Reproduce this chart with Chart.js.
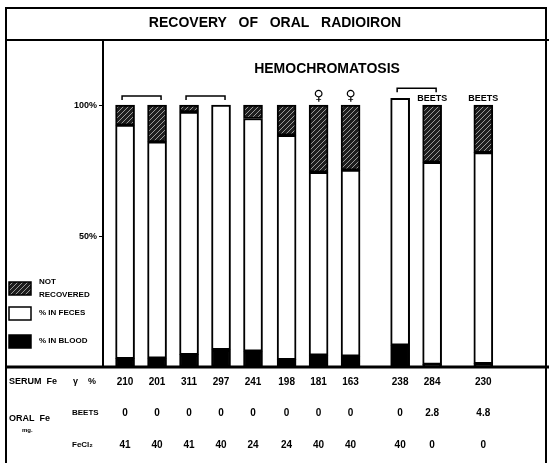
<!DOCTYPE html>
<html>
<head>
<meta charset="utf-8">
<script src="https://cdn.jsdelivr.net/npm/chart.js@4"></script>
<style>
  html, body { margin: 0; padding: 0; background: #fff; }
  canvas { display: block; }
</style>
</head>
<body>
<canvas id="chart" width="549" height="463"></canvas>
<script>
// values (percent of oral dose)
const serumFe = [210, 201, 311, 297, 241, 198, 181, 163, 238, 284, 230];
const beetsMg = ["0", "0", "0", "0", "0", "0", "0", "0", "0", "2.8", "4.8"];
const fecl2Mg = ["41", "40", "41", "40", "24", "24", "40", "40", "40", "0", "0"];
const inBlood = [3.2, 3.4, 4.7, 6.6, 6.0, 2.8, 4.5, 4.1, 8.3, 1.0, 1.3];
const inFeces = [89.2, 82.6, 92.7, 93.4, 88.9, 85.7, 69.9, 71.1, 94.3, 77.2, 80.6];
const notRecovered = [7.6, 14.0, 2.6, 0, 5.1, 11.5, 25.6, 24.8, 0, 21.8, 18.1];
const yTicks = [50, 100];

// layout: where each bar sits along the x axis (groups are spaced apart)
const slots = [0, 1, 2, 3, 4, 5.05, 6.05, 7.05, 8.6, 9.6, 11.2];

const FONT = "'Liberation Sans', Arial, sans-serif";

function hatchPattern() {
  const c = document.createElement("canvas");
  c.width = 5; c.height = 5;
  const g = c.getContext("2d");
  g.fillStyle = "#1e1e1e";
  g.fillRect(0, 0, 5, 5);
  g.strokeStyle = "#9a9a9a";
  g.lineWidth = 1;
  g.beginPath();
  g.moveTo(0, 5); g.lineTo(5, 0);
  g.moveTo(-2.5, 2.5); g.lineTo(2.5, -2.5);
  g.moveTo(2.5, 7.5); g.lineTo(7.5, 2.5);
  g.stroke();
  return g.createPattern(c, "repeat");
}
const hatch = hatchPattern();

const pts = arr => arr.map((v, i) => ({ x: slots[i], y: v }));

const decorations = {
  id: "decorations",
  afterDraw(chart) {
    const ctx = chart.ctx;
    const xs = chart.scales.x, ys = chart.scales.y;
    const px = i => xs.getPixelForValue(slots[i]);
    ctx.save();
    ctx.strokeStyle = "#000";
    ctx.fillStyle = "#000";

    // frame
    ctx.lineWidth = 2;
    ctx.beginPath();
    ctx.moveTo(6, 470); ctx.lineTo(6, 8); ctx.lineTo(546, 8); ctx.lineTo(546, 470);
    ctx.moveTo(6, 40); ctx.lineTo(549, 40);
    ctx.moveTo(103, 40); ctx.lineTo(103, 367);
    ctx.stroke();
    ctx.lineWidth = 3;
    ctx.beginPath();
    ctx.moveTo(6, 367); ctx.lineTo(549, 367);
    ctx.stroke();

    // titles
    ctx.textAlign = "center";
    ctx.textBaseline = "middle";
    ctx.font = "bold 14px " + FONT;
    ctx.fillText("RECOVERY   OF   ORAL   RADIOIRON", 275, 23);
    ctx.fillText("HEMOCHROMATOSIS", 327, 69);

    // brackets
    ctx.lineWidth = 1.5;
    const bracket = (a, b, val) => {
      const y = ys.getPixelForValue(val);
      const x0 = px(a) - 3, x1 = px(b) + 4;
      ctx.beginPath();
      ctx.moveTo(x0, y + 4); ctx.lineTo(x0, y); ctx.lineTo(x1, y); ctx.lineTo(x1, y + 4);
      ctx.stroke();
    };
    bracket(0, 1, 103.5);
    bracket(2, 3, 103.5);
    bracket(8, 9, 106.5);

    // female marks and BEETS notes
    ctx.font = "bold 14px 'DejaVu Sans', sans-serif";
    ctx.fillText("\u2640", px(6), 96);
    ctx.fillText("\u2640", px(7), 96);
    ctx.font = "bold 9px " + FONT;
    ctx.fillText("BEETS", px(9), 99);
    ctx.fillText("BEETS", px(10), 99);

    // y tick labels
    ctx.textAlign = "right";
    ctx.font = "bold 9px " + FONT;
    yTicks.forEach(v => ctx.fillText(v + "%", 97, ys.getPixelForValue(v)));

    // legend
    ctx.lineWidth = 1.5;
    const box = (y, fill) => {
      ctx.fillStyle = fill;
      ctx.fillRect(9, y, 22, 13);
      ctx.strokeRect(9, y, 22, 13);
    };
    box(282, hatch);
    box(307, "#fff");
    box(335, "#000");
    ctx.fillStyle = "#000";
    ctx.textAlign = "left";
    ctx.font = "bold 8px " + FONT;
    ctx.fillText("NOT", 39, 282);
    ctx.fillText("RECOVERED", 39, 295);
    ctx.fillText("% IN FECES", 39, 313);
    ctx.fillText("% IN BLOOD", 39, 341);

    // table under the bars
    ctx.font = "bold 9px " + FONT;
    ctx.fillText("SERUM  Fe", 9, 382);
    ctx.fillText("\u03B3", 73, 382);
    ctx.fillText("%", 88, 382);
    ctx.fillText("ORAL  Fe", 9, 419);
    ctx.font = "bold 6px " + FONT;
    ctx.fillText("mg.", 22, 430);
    ctx.font = "bold 8px " + FONT;
    ctx.fillText("BEETS", 72, 413);
    ctx.fillText("FeCl\u2082", 72, 445);
    ctx.textAlign = "center";
    ctx.font = "bold 10px " + FONT;
    serumFe.forEach((v, i) => ctx.fillText(String(v), px(i), 382));
    beetsMg.forEach((v, i) => ctx.fillText(v, px(i), 413));
    fecl2Mg.forEach((v, i) => ctx.fillText(v, px(i), 445));
    ctx.restore();
  }
};

const common = { borderColor: "#000", borderWidth: 2, borderSkipped: false, barThickness: 19 };

new Chart(document.getElementById("chart"), {
  type: "bar",
  data: {
    datasets: [
      Object.assign({ label: "% IN BLOOD", data: pts(inBlood), backgroundColor: "#000" }, common),
      Object.assign({ label: "% IN FECES", data: pts(inFeces), backgroundColor: "#fff" }, common),
      Object.assign({ label: "NOT RECOVERED", data: pts(notRecovered), backgroundColor: hatch }, common)
    ]
  },
  options: {
    responsive: false,
    animation: false,
    layout: { padding: { left: 0, right: 3, top: 79, bottom: 96 } },
    plugins: { legend: { display: false }, tooltip: { enabled: false } },
    scales: {
      x: { type: "linear", stacked: true, display: false, offset: false, min: -0.69, max: 13.16 },
      y: {
        stacked: true, min: 0, max: 110,
        afterBuildTicks: s => { s.ticks = yTicks.map(v => ({ value: v })); },
        afterFit: s => { s.width = 103; },
        ticks: { display: false },
        grid: { drawOnChartArea: false, drawTicks: true, tickLength: 4, color: "#000", lineWidth: 1 },
        border: { display: true, color: "#000", width: 2 }
      }
    }
  },
  plugins: [decorations]
});
</script>
</body>
</html>
